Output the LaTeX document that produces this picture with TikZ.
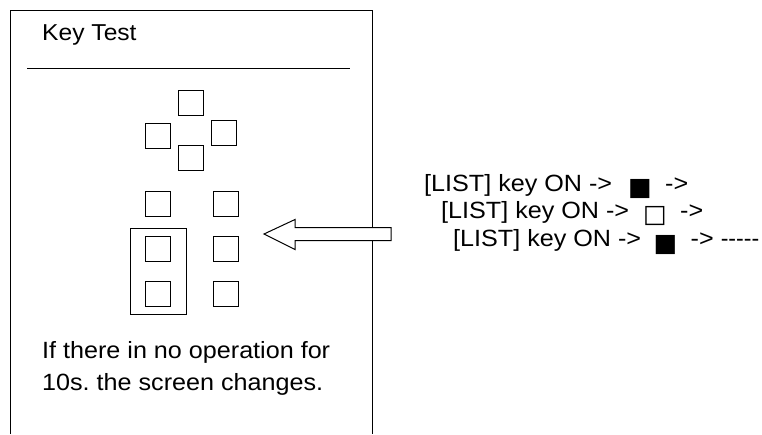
\documentclass[tikz,border=0pt]{standalone}
\usepackage{fontspec}
\setmainfont{Liberation Sans}[FakeStretch=1.07]
\newfontfamily\dejavu{DejaVu Sans}
\usetikzlibrary{fit}
\frenchspacing
\tikzset{
  keybox/.style={draw, line width=1.2pt, minimum size=25pt, inner sep=0pt},
  frameline/.style={line width=1pt},
  txt/.style={anchor=base west, inner sep=0pt, font=\fontsize{23.5}{27}\selectfont},
  sym/.style={inner sep=0pt, font=\dejavu\fontsize{25}{29}\selectfont},
}
\begin{document}
\begin{tikzpicture}[x=1pt, y=-1pt]
\useasboundingbox (0,0) rectangle (762,434);
% screen frame (open at bottom)
\coordinate (fbl) at (10,434);
\coordinate (ftl) at (10,10);
\coordinate (ftr) at (372,10);
\coordinate (fbr) at (372,434);
\draw[frameline] (fbl) -- (ftl) -- (ftr) -- (fbr);
\node[txt, font=\fontsize{23}{27}\selectfont] (title) at (42,40.5) {Key Test};
\coordinate (hl) at (27,68);
\coordinate (hr) at (350,68);
\draw[frameline] (hl) -- (hr);
% cross keys
\node[keybox] (up) at (191.3,102.7) {};
\node[keybox] (left) at (158.2,135.8) {};
\node[keybox] (right) at (224,133) {};
\node[keybox] (down) at (191.3,158.3) {};
% key grid
\node[keybox] (k11) at (158.2,203.7) {};
\node[keybox] (k12) at (225.8,203.7) {};
\node[keybox] (k21) at (158.2,249) {};
\node[keybox] (k22) at (225.8,249) {};
\node[keybox] (k31) at (158.2,294) {};
\node[keybox] (k32) at (225.8,294) {};
\node[draw, line width=1pt, inner xsep=15pt, inner ysep=7.5pt, fit=(k21)(k31)] (sel) {};
% message
\node[txt] (msg1) at (42,358) {If there in no operation for};
\node[txt] (msg2) at (42,390) {10s. the screen changes.};
% hollow arrow
\coordinate (tip) at (264,234);
\draw[line width=1pt, fill=white, line join=miter]
  (tip) -- (295,219.5) -- (295,227.5) -- (391,227.5) -- (391,240.5)
  -- (295,240.5) -- (295,249.5) -- cycle;
% legend text
\node[txt] (a1) at (424,191) {[LIST] key ON ->};
\node[sym] (s1) at (640,188.7) {■};
\node[txt] (b1) at (665,191) {->};
\node[txt] (a2) at (441,218.5) {[LIST] key ON ->};
\node[sym] (s2) at (655,216.5) {□};
\node[txt] (b2) at (680,218.5) {->};
\node[txt] (a3) at (453,246) {[LIST] key ON ->};
\node[sym] (s3) at (665.5,244.7) {■};
\node[txt] (b3) at (690.5,246) {-> \scalebox{0.92}[1]{-{}-{}-{}-{}-}};
\end{tikzpicture}
\end{document}
